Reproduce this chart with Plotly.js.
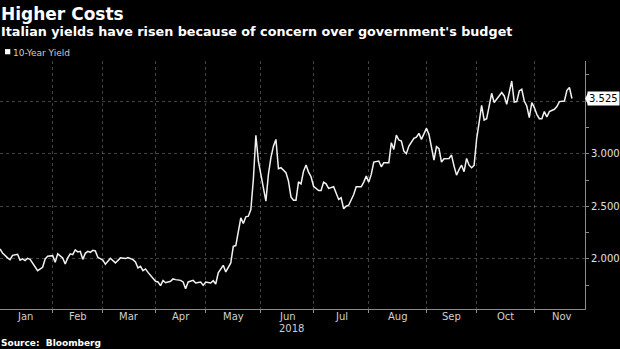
<!DOCTYPE html>
<html><head><meta charset="utf-8">
<script src="https://cdn.plot.ly/plotly-3.0.1.min.js"></script>
<style>html,body{margin:0;padding:0;background:#000;} #chart{width:620px;height:349px;}</style>
</head><body><div id="chart"></div>
<script>
const titleText = 'Higher Costs';
const subtitleText = "Italian yields have risen because of concern over government's budget";
const sourceText = 'Source:  Bloomberg';
const seriesName = '10-Year Yield';
const yearLabel = '2018';
const yearLabelMonth = 'Jun';
const holidays = ['2018-03-30', '2018-04-02', '2018-05-01'];
// first trading day of each month (gridlines) and month label names
const monthStarts = ['2018-01-02','2018-02-01','2018-03-01','2018-04-03','2018-05-02','2018-06-01',
                     '2018-07-02','2018-08-01','2018-09-03','2018-10-01','2018-11-01','2018-12-03'];
const monthLabels = ['Jan','Feb','Mar','Apr','May','Jun','Jul','Aug','Sep','Oct','Nov'];
const yTicks = [2.0, 2.5, 3.0, 3.5];
const yTickText = ['2.000', '2.500', '3.000', ''];

const dates = [
'2018-01-03','2018-01-04','2018-01-08','2018-01-09','2018-01-10','2018-01-12','2018-01-15','2018-01-16','2018-01-17','2018-01-18','2018-01-19','2018-01-22','2018-01-24','2018-01-26','2018-01-29','2018-01-30',
'2018-02-01','2018-02-02','2018-02-05','2018-02-07','2018-02-08','2018-02-09','2018-02-12','2018-02-13','2018-02-14','2018-02-15','2018-02-16','2018-02-19','2018-02-20','2018-02-21','2018-02-22','2018-02-23','2018-02-26','2018-02-27',
'2018-03-01','2018-03-02','2018-03-06','2018-03-08','2018-03-12','2018-03-14','2018-03-15','2018-03-19','2018-03-20','2018-03-21','2018-03-22','2018-03-23','2018-03-26','2018-03-27','2018-03-28',
'2018-04-03','2018-04-04','2018-04-05','2018-04-06','2018-04-09','2018-04-11','2018-04-12','2018-04-13','2018-04-17','2018-04-18','2018-04-19','2018-04-20','2018-04-24','2018-04-25','2018-04-27','2018-04-30',
'2018-05-02','2018-05-04','2018-05-07','2018-05-08','2018-05-09','2018-05-11','2018-05-14','2018-05-16','2018-05-17','2018-05-18','2018-05-22','2018-05-23','2018-05-24','2018-05-25','2018-05-28','2018-05-29','2018-05-30','2018-05-31',
'2018-06-01','2018-06-04','2018-06-05','2018-06-06','2018-06-07','2018-06-08','2018-06-11','2018-06-12','2018-06-13','2018-06-15','2018-06-18','2018-06-19','2018-06-20','2018-06-21','2018-06-22','2018-06-25','2018-06-26','2018-06-27','2018-06-28','2018-06-29',
'2018-07-02','2018-07-04','2018-07-05','2018-07-06','2018-07-09','2018-07-10','2018-07-12','2018-07-16','2018-07-17','2018-07-18','2018-07-19','2018-07-20','2018-07-24','2018-07-25','2018-07-27','2018-07-30','2018-07-31',
'2018-08-01','2018-08-02','2018-08-03','2018-08-07','2018-08-08','2018-08-09','2018-08-13','2018-08-14','2018-08-15','2018-08-16','2018-08-17','2018-08-20','2018-08-21','2018-08-22','2018-08-23','2018-08-27','2018-08-28','2018-08-29','2018-08-30',
'2018-09-03','2018-09-04','2018-09-05','2018-09-06','2018-09-07','2018-09-10','2018-09-11','2018-09-12','2018-09-14','2018-09-17','2018-09-18','2018-09-19','2018-09-20','2018-09-21','2018-09-24','2018-09-25','2018-09-26','2018-09-27','2018-09-28',
'2018-10-01','2018-10-02','2018-10-03','2018-10-04','2018-10-05','2018-10-08','2018-10-09','2018-10-10','2018-10-11','2018-10-15','2018-10-16','2018-10-17','2018-10-19','2018-10-22','2018-10-23','2018-10-24','2018-10-25','2018-10-26','2018-10-29','2018-10-30','2018-10-31',
'2018-11-01','2018-11-02','2018-11-05','2018-11-06','2018-11-07','2018-11-08','2018-11-09','2018-11-13','2018-11-14','2018-11-15','2018-11-16','2018-11-19','2018-11-20','2018-11-21','2018-11-22'
];

const yields = [
2.095,2.057,2.01,1.993,2.034,2.044,1.987,2.0,1.984,2.006,1.996,1.962,1.889,1.92,2.0,2.025,
2.031,1.968,2.048,2.01,1.952,2.01,2.048,2.041,2.086,2.067,2.072,1.996,2.053,2.072,2.063,2.082,2.076,2.015,
1.99,1.949,2.006,1.962,2.01,2.003,2.012,1.993,1.971,1.914,1.93,1.889,1.905,1.872,1.844,
1.787,1.781,1.746,1.796,1.774,1.787,1.81,1.803,1.796,1.781,1.717,1.781,1.796,1.771,1.781,1.749,
1.781,1.771,1.793,1.762,1.867,1.939,1.876,1.962,2.12,2.127,2.39,2.336,2.4,2.406,2.47,2.755,3.174,2.93,
2.803,2.691,2.549,2.803,2.962,3.072,3.136,2.857,2.867,2.819,2.739,2.59,2.558,2.558,2.733,2.714,2.834,2.892,2.825,2.781,
2.691,2.65,2.65,2.73,2.714,2.67,2.686,2.565,2.581,2.476,2.501,2.51,2.612,2.686,2.686,2.73,2.787,
2.73,2.803,2.92,2.93,2.876,2.914,2.914,3.105,3.041,3.177,3.13,3.12,3.025,3.0,3.072,3.146,3.158,3.193,3.136,
3.241,3.184,3.05,2.939,3.067,3.048,2.92,2.952,2.955,2.987,2.882,2.796,2.85,2.891,2.829,2.955,2.891,2.867,2.889,
3.14,3.295,3.46,3.32,3.333,3.453,3.574,3.486,3.517,3.581,3.549,3.47,3.691,3.491,3.495,3.596,3.612,3.501,3.453,3.343,3.486,
3.438,3.374,3.333,3.333,3.4,3.349,3.4,3.422,3.448,3.495,3.501,3.501,3.603,3.629,3.525
];

const lastValue = yields[yields.length - 1];
const grid = 'rgba(255,255,255,0.26)';
const axisCol = '#8c8c8c';
const FONT = 'DejaVu Sans, Verdana, sans-serif';
const xRange = ['2018-01-03', '2018-11-29 05:00'];
const xBreaks = [{bounds: ['sat', 'mon']}, {values: holidays}];

// middle of each month measured in trading days (axis has weekend/holiday breaks)
const DAY = 86400000;
function tradingMid(startStr, endStr) {
  const a = Date.parse(startStr + 'T00:00:00Z'), b = Date.parse(endStr + 'T00:00:00Z');
  const days = [];
  for (let t = a; t < b; t += DAY) {
    const d = new Date(t); const wd = d.getUTCDay();
    const iso = d.toISOString().slice(0, 10);
    if (wd !== 0 && wd !== 6 && holidays.indexOf(iso) < 0) days.push(t);
  }
  const h = days.length / 2, k = Math.floor(h);
  const t = days[k] + (h - k) * DAY;
  return new Date(t).toISOString().slice(0, 19).replace('T', ' ');
}
const monthMids = monthLabels.map((m, i) => tradingMid(monthStarts[i], monthStarts[i + 1]));
const LABEL_Y = -0.031;

const trace = {
  type: 'scatter', mode: 'lines', name: seriesName,
  x: dates, y: yields,
  line: {color: '#f2f2f2', width: 1.5},
  hoverinfo: 'skip'
};

const monthAnnotations = monthLabels.map((m, i) => ({
  text: m, xref: 'x', yref: 'paper', x: monthMids[i], y: LABEL_Y,
  xanchor: 'center', yanchor: 'middle', showarrow: false,
  font: {family: FONT, size: 10, color: '#cfcfcf'}
}));

const layout = {
  width: 620, height: 349,
  paper_bgcolor: '#000', plot_bgcolor: '#000',
  margin: {l: 0, r: 35, t: 61, b: 40},
  showlegend: false,
  font: {family: FONT, color: '#ddd', size: 10},
  xaxis: {
    type: 'date', range: xRange, rangebreaks: xBreaks,
    tickmode: 'array', tickvals: monthStarts.slice(1, 11),
    showticklabels: false,
    showgrid: true, gridcolor: grid, griddash: 'dot', gridwidth: 1,
    ticks: 'outside', ticklen: 3, tickcolor: axisCol,
    showline: true, linecolor: axisCol, linewidth: 1,
    zeroline: false, fixedrange: true
  },
  yaxis: {
    side: 'right', range: [1.524, 3.881],
    tickmode: 'array', tickvals: yTicks, ticktext: yTickText,
    showgrid: true, gridcolor: grid, griddash: 'dot', gridwidth: 1,
    showline: true, linecolor: axisCol, linewidth: 1,
    ticks: 'outside', ticklen: 3, tickcolor: axisCol,
    minor: {tickmode: 'linear', tick0: 0, dtick: 0.25, ticks: 'outside', ticklen: 3, tickcolor: axisCol, showgrid: false},
    tickfont: {family: FONT, size: 10, color: '#e0e0e0'},
    zeroline: false, fixedrange: true
  },
  shapes: [
    {type: 'rect', xref: 'paper', yref: 'paper', x0: 0.0086, x1: 0.0176, y0: 1.027, y1: 1.048,
     fillcolor: '#ffffff', line: {width: 0}},
    {type: 'path', xref: 'paper', yref: 'y',
     path: 'M 1.0005 ' + lastValue + ' L 1.0055 ' + (lastValue + 0.06) + ' L 1.0055 ' + (lastValue - 0.06) + ' Z',
     fillcolor: '#ffffff', line: {width: 0}}
  ],
  annotations: monthAnnotations.concat([
    {text: '<b>' + titleText + '</b>', xref: 'paper', yref: 'paper', x: 0, y: 1.189,
     xanchor: 'left', yanchor: 'middle', showarrow: false, xshift: -1,
     font: {family: FONT, size: 17, color: '#ffffff'}},
    {text: '<b>' + subtitleText + '</b>', xref: 'paper', yref: 'paper', x: 0, y: 1.117,
     xanchor: 'left', yanchor: 'middle', showarrow: false, xshift: -1,
     font: {family: FONT, size: 12.75, color: '#ffffff'}},
    {text: seriesName, xref: 'paper', yref: 'paper', x: 0, y: 1.034,
     xanchor: 'left', yanchor: 'middle', showarrow: false, xshift: 11,
     font: {family: FONT, size: 9, color: '#cccccc'}},
    {text: '<b>' + sourceText + '</b>', xref: 'paper', yref: 'paper', x: 0, y: -0.136,
     xanchor: 'left', yanchor: 'middle', showarrow: false, xshift: -1,
     font: {family: FONT, size: 9, color: '#ffffff'}},
    {text: yearLabel, xref: 'x', yref: 'paper', x: monthMids[monthLabels.indexOf(yearLabelMonth)], y: -0.079,
     xanchor: 'center', yanchor: 'middle', showarrow: false, xshift: 4,
     font: {family: FONT, size: 10, color: '#cfcfcf'}},
    {text: lastValue.toFixed(3), xref: 'paper', yref: 'y', x: 1, y: lastValue,
     xanchor: 'left', yanchor: 'middle', showarrow: false, xshift: 2,
     bgcolor: '#ffffff', borderpad: 1,
     font: {family: FONT, size: 10, color: '#000000'}}
  ])
};

Plotly.newPlot('chart', [trace], layout, {staticPlot: true, displayModeBar: false});
</script>
</body></html>
